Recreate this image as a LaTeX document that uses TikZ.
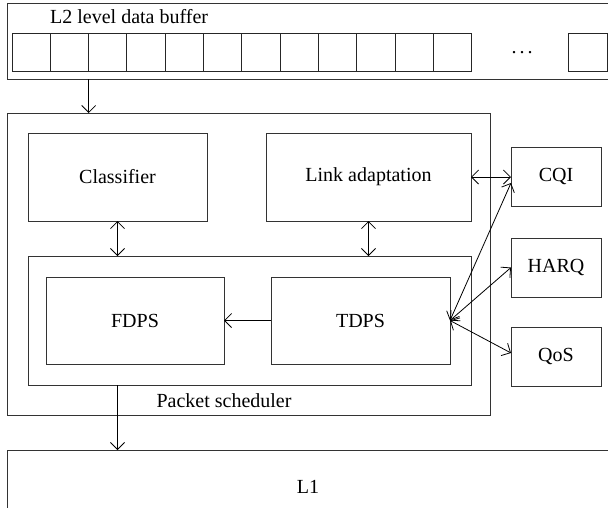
\documentclass[tikz,border=0pt]{standalone}
\usepackage{fontspec}
\setmainfont{Liberation Serif}
\usetikzlibrary{arrows.meta,calc}

\tikzset{
  box/.style={draw=black!80, line width=1pt, anchor=north west, inner sep=0pt, outer sep=0pt},
  cell/.style={draw=black!85, line width=1pt, anchor=north west, inner sep=0pt, outer sep=0pt,
               minimum height=38pt},
  lbl/.style={font=\fontsize{20}{24}\selectfont, inner sep=0pt},
  link/.style={line width=0.8pt, -{Straight Barb[length=7pt,width=14pt]}},
  dlink/.style={line width=0.8pt, {Straight Barb[length=7pt,width=14pt]}-{Straight Barb[length=7pt,width=14pt]}},
}

\begin{document}
\begin{tikzpicture}[x=1pt, y=-1pt]
\useasboundingbox (0,0) rectangle (608,507);
\clip (0,0) rectangle (608,507);

% L2 data buffer
\node[box, minimum width=603pt, minimum height=76pt] (buf) at (7,3) {};
\node[lbl, anchor=west] (buftitle) at (50,17) {L2 level data buffer};
\foreach \i in {1,...,12} {
  \node[cell, minimum width=38.33pt] (c\i) at ({12+(\i-1)*38.33},33) {};
}
\node[cell, minimum width=39pt] (clast) at (568,33) {};
\node[lbl] (dots) at (522,53) {.\hspace{3pt}.\hspace{3pt}.};

% Packet scheduler
\node[box, minimum width=483pt, minimum height=302pt] (sched) at (7,113) {};
\node[box, minimum width=179pt, minimum height=88pt] (classifier) at (28,133) {};
\node[lbl] at (classifier.center) {Classifier};
\node[box, minimum width=205pt, minimum height=88pt] (linkad) at (266,133) {};
\node[lbl] at (linkad.center) {Link adaptation};
\node[box, minimum width=443pt, minimum height=129pt] (group) at (28,256) {};
\node[box, minimum width=178pt, minimum height=87pt] (fdps) at (46,277) {};
\node[lbl] at (fdps.center) {FDPS};
\node[box, minimum width=179pt, minimum height=87pt] (tdps) at (271,277) {};
\node[lbl] at (tdps.center) {TDPS};
\node[lbl] (schedtitle) at (224,401) {Packet scheduler};

% Feedback boxes
\node[box, minimum width=90pt, minimum height=59pt] (cqi) at (511,147) {};
\node[lbl] at (cqi.center) {CQI};
\node[box, minimum width=90pt, minimum height=59pt] (harq) at (511,238) {};
\node[lbl] at (harq.center) {HARQ};
\node[box, minimum width=90pt, minimum height=59pt] (qos) at (511,327) {};
\node[lbl] at (qos.center) {QoS};

% L1
\node[box, minimum width=603pt, minimum height=80pt] (l1) at (7,450) {};
\node[lbl] at (308,487) {L1};

% Connectors
\coordinate (bufout) at ($(c2.north east)!1!(c2.south east)$);
\draw[link] (bufout |- buf.south) -- (bufout |- sched.north);
\draw[dlink] (classifier.south) -- (classifier.south |- group.north);
\draw[dlink] (linkad.south) -- (linkad.south |- group.north);
\draw[link] (tdps.west) -- (fdps.east);
\draw[dlink] (linkad.east) -- (cqi.west |- linkad.east);
\coordinate (cqiin) at ($(cqi.north west)!0.61!(cqi.south west)$);
\coordinate (qosin) at ($(qos.north west)!0.44!(qos.south west)$);
\draw[dlink] (tdps.east) -- (cqiin);
\draw[dlink] (tdps.east) -- (harq.west);
\draw[dlink] (tdps.east) -- (qosin);
\draw[link] (group.south -| classifier.south) -- (l1.north -| classifier.south);
\end{tikzpicture}
\end{document}
